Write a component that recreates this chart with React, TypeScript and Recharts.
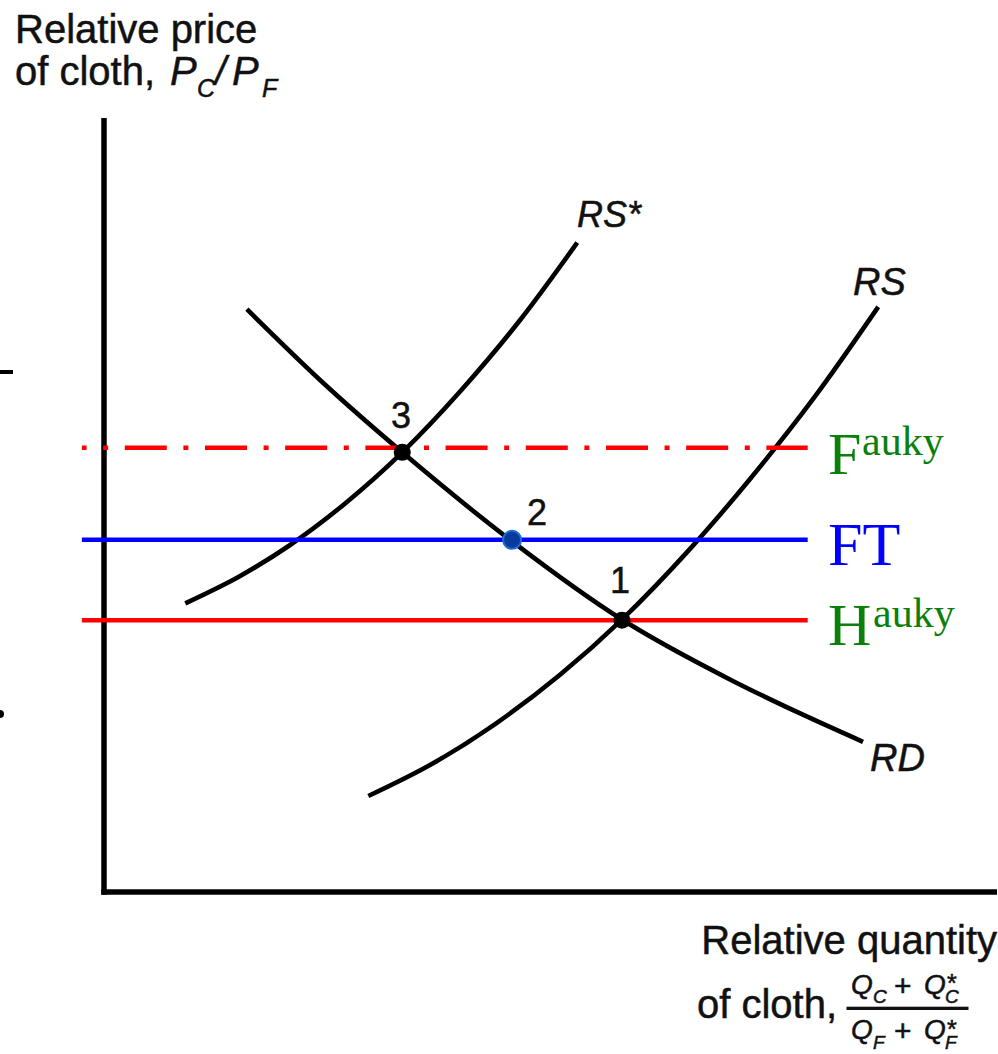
import React from 'react';
import { ComposedChart, Line, XAxis, YAxis, ReferenceLine, ReferenceDot } from 'recharts';

// Relative supply (home), relative supply (foreign) and relative demand curves
const rsX = [2.96, 3.65, 4.38, 5.11, 5.8, 6.56, 7.23, 7.96, 8.67];
const rsY = [1.24, 1.64, 2.17, 2.81, 3.52, 4.43, 5.33, 6.4, 7.56];
const rsStarX = [0.91, 1.52, 2.08, 2.7, 3.34, 3.99, 4.66, 5.3];
const rsStarY = [3.73, 4.08, 4.48, 5.02, 5.68, 6.47, 7.39, 8.39];
const rdX = [1.6, 2.48, 3.34, 4.57, 5.8, 7.02, 7.79, 8.5];
const rdY = [7.53, 6.55, 5.68, 4.53, 3.52, 2.74, 2.31, 1.94];

// Horizontal price levels
const priceLineX = [-0.25, 7.88];
const hAutarkyPrice = 3.51;
const freeTradePrice = 4.55;
const fAutarkyPrice = 5.74;

// Equilibrium points 1, 2, 3
const eqX = [5.8, 4.57, 3.34];
const eqY = [3.51, 4.55, 5.68];
const eqLabels = ['1', '2', '3'];

const toPts = (xs: number[], ys: number[]) => xs.map((x, i) => ({ x, y: ys[i] }));
const flat = (p: number) => priceLineX.map((x) => ({ x, y: p }));

const W = 998;
const H = 1054;
const dashDot = '4.9 16.6 5 16.6 ' + Array(10).fill('42 16.6 5 16.6').join(' ');

const sans = '"Liberation Sans", Arial, Helvetica, sans-serif';
const serif = '"Liberation Serif", "Times New Roman", serif';
const green = '#0a800a';
const ink = '#111';
const inkStroke = { stroke: ink, strokeWidth: 0.5 };

export default function App() {
  return (
    <div style={{ position: 'absolute', left: 0, top: 0, width: W, height: H, background: '#fff' }}>
      <ComposedChart
        width={W}
        height={H}
        margin={{ top: 118, right: 1, bottom: 162, left: 81.675 }}
      >
        <XAxis type="number" dataKey="x" domain={[-0.25, 10]} hide allowDataOverflow />
        <YAxis type="number" dataKey="y" domain={[0, 10]} hide allowDataOverflow />
        <ReferenceLine
          segment={[{ x: -0.03, y: 0 }, { x: 10, y: 0 }]}
          stroke="#000"
          strokeWidth={5.5}
          ifOverflow="visible"
        />
        <ReferenceLine
          segment={[{ x: 0, y: -0.035 }, { x: 0, y: 10 }]}
          stroke="#000"
          strokeWidth={5.5}
          ifOverflow="visible"
        />
        <Line data={toPts(rsStarX, rsStarY)} dataKey="y" type="monotone" stroke="#000" strokeWidth={4.6} dot={false} activeDot={false} isAnimationActive={false} />
        <Line data={toPts(rsX, rsY)} dataKey="y" type="monotone" stroke="#000" strokeWidth={4.6} dot={false} activeDot={false} isAnimationActive={false} />
        <Line data={toPts(rdX, rdY)} dataKey="y" type="monotone" stroke="#000" strokeWidth={4.6} dot={false} activeDot={false} isAnimationActive={false} />
        <Line data={flat(fAutarkyPrice)} dataKey="y" type="linear" stroke="#ff0000" strokeWidth={4.5} strokeDasharray={dashDot} dot={false} activeDot={false} isAnimationActive={false} />
        <Line data={flat(freeTradePrice)} dataKey="y" type="linear" stroke="#0000ff" strokeWidth={4.5} dot={false} activeDot={false} isAnimationActive={false} />
        <Line data={flat(hAutarkyPrice)} dataKey="y" type="linear" stroke="#ff0000" strokeWidth={4.5} dot={false} activeDot={false} isAnimationActive={false} />
        {eqX.map((x, i) => (
          <ReferenceDot
            key={eqLabels[i]}
            x={x}
            y={eqY[i]}
            r={eqLabels[i] === '2' ? 9 : 8.5}
            fill={eqLabels[i] === '2' ? '#083a9e' : '#000'}
            stroke={eqLabels[i] === '2' ? '#1a6fd6' : '#000'}
            strokeWidth={eqLabels[i] === '2' ? 2 : 0}
            ifOverflow="visible"
          />
        ))}
      </ComposedChart>
      <svg
        width={W}
        height={H}
        style={{ position: 'absolute', left: 0, top: 0, pointerEvents: 'none' }}
      >
        {/* y-axis title */}
        <text x={15} y={43} fontFamily={sans} fontSize={40} fill={ink} {...inkStroke}>Relative price</text>
        <text x={15} y={85} fontFamily={sans} fontSize={40} fill={ink} {...inkStroke}>of cloth,</text>
        <text fontFamily={sans} fill={ink} fontStyle="italic" {...inkStroke}>
          <tspan x={170} y={85} fontSize={40}>P</tspan>
          <tspan x={197} y={97} fontSize={25}>C</tspan>
          <tspan x={215} y={85} fontSize={40}>/</tspan>
          <tspan x={232} y={85} fontSize={40}>P</tspan>
          <tspan x={262} y={97} fontSize={25}>F</tspan>
        </text>
        {/* x-axis title */}
        <text x={997} y={954} textAnchor="end" fontFamily={sans} fontSize={40} fill={ink} {...inkStroke}>Relative quantity</text>
        <text x={697} y={1018} fontFamily={sans} fontSize={40} fill={ink} {...inkStroke}>of cloth,</text>
        <text fontFamily={sans} fill={ink} fontStyle="italic" {...inkStroke}>
          <tspan x={851} y={994} fontSize={28}>Q</tspan>
          <tspan x={873} y={1003} fontSize={19}>C</tspan>
          <tspan x={894} y={996} fontSize={30} fontStyle="normal">+</tspan>
          <tspan x={924} y={994} fontSize={28}>Q</tspan>
          <tspan x={947} y={992} fontSize={25} fontStyle="normal">*</tspan>
          <tspan x={945} y={1003} fontSize={19}>C</tspan>
        </text>
        <rect x={846.5} y={1006.7} width={122} height={3.3} fill={ink} />
        <text fontFamily={sans} fill={ink} fontStyle="italic" {...inkStroke}>
          <tspan x={851} y={1039} fontSize={28}>Q</tspan>
          <tspan x={873} y={1049} fontSize={19}>F</tspan>
          <tspan x={894} y={1041} fontSize={30} fontStyle="normal">+</tspan>
          <tspan x={924} y={1039} fontSize={28}>Q</tspan>
          <tspan x={947} y={1038} fontSize={25} fontStyle="normal">*</tspan>
          <tspan x={945} y={1049} fontSize={19}>F</tspan>
        </text>
        {/* curve labels */}
        <text x={577} y={227} fontFamily={sans} fontSize={36} fontStyle="italic" fill={ink} {...inkStroke}>RS*</text>
        <text x={853} y={295} fontFamily={sans} fontSize={38} fontStyle="italic" fill={ink} {...inkStroke}>RS</text>
        <text x={870} y={771} fontFamily={sans} fontSize={38} fontStyle="italic" fill={ink} {...inkStroke}>RD</text>
        {/* point labels */}
        <text x={401} y={428} textAnchor="middle" fontFamily={sans} fontSize={36} fill={ink} {...inkStroke}>{eqLabels[2]}</text>
        <text x={537} y={525} textAnchor="middle" fontFamily={sans} fontSize={36} fill={ink} {...inkStroke}>{eqLabels[1]}</text>
        <text x={620} y={593} textAnchor="middle" fontFamily={sans} fontSize={36} fill={ink} {...inkStroke}>{eqLabels[0]}</text>
        {/* price level labels */}
        <text fontFamily={serif} fill={green}>
          <tspan x={828} y={474} fontSize={60}>F</tspan>
          <tspan x={862} y={455} fontSize={42}>auky</tspan>
        </text>
        <text x={828} y={565} fontFamily={serif} fontSize={62} fill="#0000ff">FT</text>
        <text fontFamily={serif} fill={green}>
          <tspan x={828} y={645} fontSize={60}>H</tspan>
          <tspan x={873} y={627} fontSize={42}>auky</tspan>
        </text>
        {/* small marks at the left edge of the picture */}
        <rect x={0} y={370} width={13} height={4} fill="#000" />
        <circle cx={0} cy={714} r={4} fill="#000" />
      </svg>
    </div>
  );
}
